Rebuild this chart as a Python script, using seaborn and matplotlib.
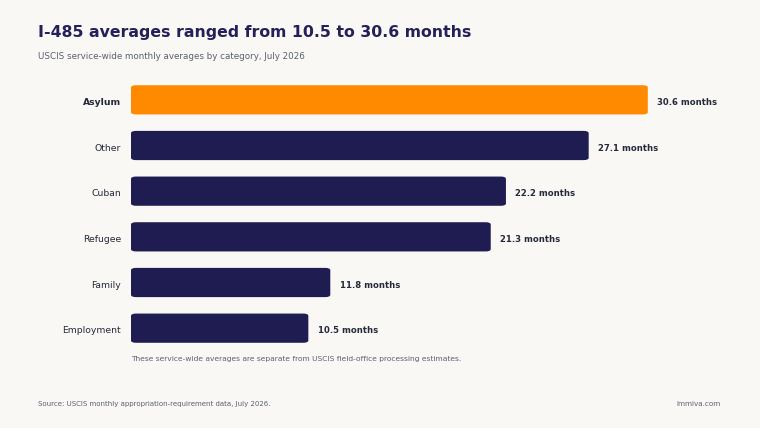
import matplotlib
matplotlib.use("Agg")
import matplotlib.pyplot as plt
from matplotlib.patches import FancyBboxPatch
from matplotlib.transforms import ScaledTranslation
import seaborn as sns
import pandas as pd

categories = ["Asylum", "Other", "Cuban", "Refugee", "Family", "Employment"]
months = [30.6, 27.1, 22.2, 21.3, 11.8, 10.5]
highlight = "Asylum"

title = "I-485 averages ranged from 10.5 to 30.6 months"
subtitle = "USCIS service-wide monthly averages by category, July 2026"
note = "These service-wide averages are separate from USCIS field-office processing estimates."
source = "Source: USCIS monthly appropriation-requirement data, July 2026."
brand = "immiva.com"

BG = "#f9f8f4"
NAVY = "#1f1c52"
ORANGE = "#ff8a00"
TEXT = "#252a3a"
GRAY = "#5a6070"

sns.set_theme(style="white")
plt.rcParams["font.family"] = ["DejaVu Sans"]

df = pd.DataFrame({"category": categories, "months": months})
palette = {c: (ORANGE if c == highlight else NAVY) for c in categories}

fig = plt.figure(figsize=(7.6, 4.28), dpi=100, facecolor=BG)
ax = fig.add_axes([131 / 760, 77 / 428, 608 / 760, 274 / 428])
ax.set_facecolor(BG)

sns.barplot(data=df, x="months", y="category", hue="category", palette=palette,
            order=categories, width=0.64, legend=False, ax=ax, saturation=1)

ax.set_xlim(0, 36)
ax.set_ylim(5.5, -0.5)

bars = list(ax.patches)
for p in bars:
    x0, y0 = p.get_x(), p.get_y()
    w, h = p.get_width(), p.get_height()
    col = p.get_facecolor()
    p.set_visible(False)
    rb = FancyBboxPatch((x0, y0), w, h,
                        boxstyle="round,pad=0,rounding_size=0.3",
                        mutation_aspect=0.17,
                        facecolor=col, edgecolor="none")
    ax.add_patch(rb)

down = ScaledTranslation(0, -2.5 / 100, fig.dpi_scale_trans)
for i, (c, v) in enumerate(zip(categories, months)):
    ax.text(v + 0.55, i, f"{v:.1f} months", va="center", ha="left",
            fontsize=6.15, fontweight="bold", color=TEXT,
            transform=ax.transData + down)
    ax.text(-10 / 608, i, c, va="center", ha="right", fontsize=6.65,
            fontweight="bold" if c == highlight else "normal", color=TEXT,
            transform=ax.get_yaxis_transform() + down)

ax.set_xlabel("")
ax.set_ylabel("")
ax.set_xticks([])
ax.set_yticks([])
for s in ax.spines.values():
    s.set_visible(False)

fig.text(38 / 760, 1 - 33 / 428, title, fontsize=11.35, fontweight="bold",
         color="#23205a", va="center", ha="left")
fig.text(38 / 760, 1 - 57 / 428, subtitle, fontsize=6.3, color=GRAY,
         va="center", ha="left")
fig.text(131 / 760, 1 - 359 / 428, note, fontsize=5.4, color=GRAY,
         va="center", ha="left")
fig.text(38 / 760, 1 - 404 / 428, source, fontsize=5.0, color=GRAY,
         va="center", ha="left")
fig.text(721 / 760, 1 - 404 / 428, brand, fontsize=5.25, color=GRAY,
         va="center", ha="right")

fig.savefig("out.png", dpi=100, facecolor=BG)
